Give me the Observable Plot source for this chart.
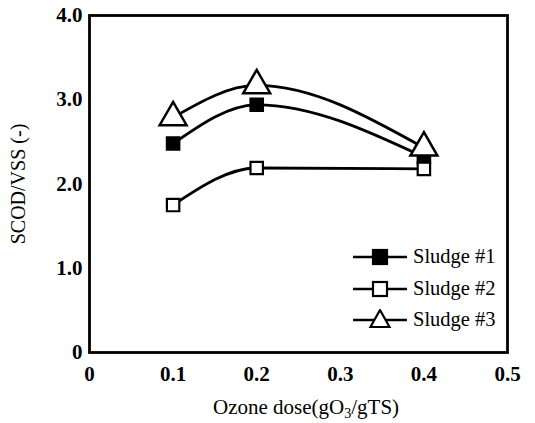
<!DOCTYPE html>
<html><head><meta charset="utf-8">
<script src="https://cdn.jsdelivr.net/npm/d3@7"></script>
<script src="https://cdn.jsdelivr.net/npm/@observablehq/plot@0.6"></script>
<style>
html,body{margin:0;padding:0;background:#fff;}
#wrap{position:relative;width:535px;height:423px;font-family:"Liberation Serif","Times New Roman",serif;color:#000;}
#xlabel{position:absolute;left:213px;top:395px;font-size:21px;white-space:nowrap;}
#xlabel sub{font-size:14px;vertical-align:-4px;line-height:0;}
#legend{position:absolute;left:352px;top:241px;font-size:20.5px;}
#legend .row{display:flex;align-items:center;height:31.5px;}
#legend svg{margin-right:5px;}
</style></head>
<body><div id="wrap"><div id="chart"></div><div id="xlabel">Ozone dose(gO<sub>3</sub>/gTS)</div><div id="legend"></div></div>
<script>
const doses = [0.1, 0.2, 0.4];
const sludge1 = [2.48, 2.94, 2.32];
const sludge2 = [1.75, 2.19, 2.18];
const sludge3 = [2.79, 3.17, 2.43];
const seriesNames = ["Sludge #1", "Sludge #2", "Sludge #3"];
const xTicks = [0, 0.1, 0.2, 0.3, 0.4, 0.5];
const yTicks = [0, 1, 2, 3, 4];

const all = [sludge1, sludge2, sludge3];
const data = [];
all.forEach((vals, i) => vals.forEach((v, j) => data.push({series: seriesNames[i], x: doses[j], y: v})));

const symbolOf = {"Sludge #1": "square", "Sludge #2": "square", "Sludge #3": "triangle"};
const fillOf = {"Sludge #1": "black", "Sludge #2": "white", "Sludge #3": "white"};
const fmt = d => d === 0 ? "0" : d.toFixed(1);

const chart = Plot.plot({
  width: 535, height: 423,
  marginLeft: 89, marginRight: 28, marginTop: 15, marginBottom: 71,
  style: {fontFamily: "Liberation Serif, serif", fontSize: "21px", color: "black", background: "white"},
  x: {domain: [0, 0.5], label: null},
  y: {domain: [0, 4], label: null},
  marks: [
    Plot.axisX({ticks: xTicks, tickFormat: fmt, tickSize: 0, tickPadding: 14, fontWeight: "bold", fontSize: 21, label: null}),
    Plot.axisY({ticks: yTicks, tickFormat: fmt, tickSize: 0, tickPadding: 7, fontWeight: "bold", fontSize: 21, label: null}),
    Plot.line(data, {x: "x", y: "y", z: "series", curve: "monotone-x", stroke: "black", strokeWidth: 2.8}),
    Plot.dot(data.filter(d => d.series !== "Sludge #3"), {x: "x", y: "y", symbol: "square", r: 7, fill: d => fillOf[d.series], stroke: "black", strokeWidth: 2.2}),
    Plot.dot(data.filter(d => d.series === "Sludge #3"), {x: "x", y: "y", symbol: "triangle", r: 10, fill: "white", stroke: "black", strokeWidth: 2.5}),
    Plot.frame({stroke: "black", strokeWidth: 2.8}),
    Plot.text(["SCOD/VSS (-)"], {frameAnchor: "left", dx: -71, rotate: -90, textAnchor: "middle", fontSize: 20, text: d => d})
  ]
});
document.getElementById("chart").appendChild(chart);

// legend
const leg = document.getElementById("legend");
seriesNames.forEach(name => {
  const row = document.createElement("div");
  row.className = "row";
  let marker;
  if (symbolOf[name] === "square") {
    marker = `<rect x="21" y="4" width="14" height="14" fill="${fillOf[name]}" stroke="black" stroke-width="2.2"/>`;
  } else {
    marker = `<path d="M28,1 L37.5,18 L18.5,18 Z" fill="white" stroke="black" stroke-width="2.2"/>`;
  }
  row.innerHTML = `<svg width="56" height="21"><line x1="1" y1="11" x2="55" y2="11" stroke="black" stroke-width="2.4"/>${marker}</svg><span>${name}</span>`;
  leg.appendChild(row);
});
</script></body></html>
